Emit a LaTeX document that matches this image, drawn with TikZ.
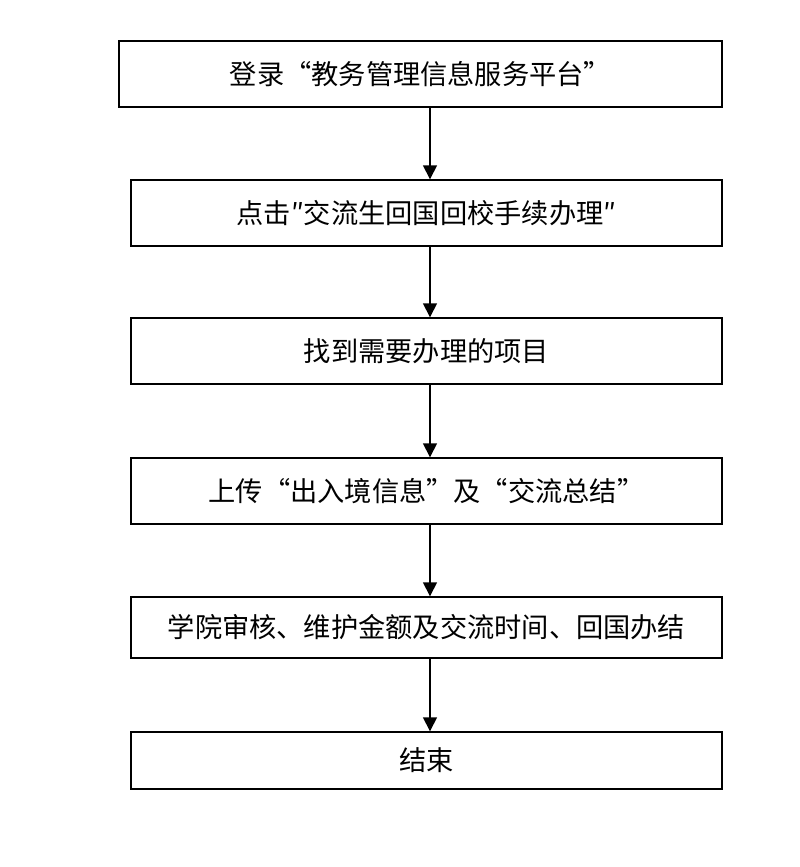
\documentclass[tikz,border=0pt]{standalone}
\usepackage{fontspec}
\newfontfamily\cjk{Noto Sans CJK SC}
\usetikzlibrary{arrows.meta,positioning}

\begin{document}
\begin{tikzpicture}[
    x=0.02cm,y=-0.02cm,
    stepbox/.style={draw=black,line width=0.8pt,minimum width=11.82cm,
        minimum height=1.32cm,inner sep=0pt,
        font=\cjk\fontsize{15.5pt}{18pt}\selectfont},
    flow/.style={-{Triangle[length=2.8mm,width=2.8mm]},line width=0.8pt}
]
    \useasboundingbox (0,0) rectangle (800,867);

    \node[stepbox,minimum width=12.06cm] (login) at (420.5,74)
        {登录“教务管理信息服务平台”};
    \node[stepbox] (click) at (426.5,213)
        {点击″交流生回国回校手续办理″};
    \node[stepbox] (find) at (426.5,351) {找到需要办理的项目};
    \node[stepbox] (upload) at (426.5,491)
        {上传“出入境信息”及“交流总结”};
    \node[stepbox,minimum height=1.22cm] (review) at (426.5,627.5)
        {学院审核、维护金额及交流时间、回国办结};
    \node[stepbox,minimum height=1.14cm] (finish) at (426.5,760.5) {结束};

    \coordinate (axis) at (430,0);
    \foreach \from/\to in {login/click,click/find,find/upload,
        upload/review,review/finish} {
        \draw[flow] (\from.south -| axis) -- (\to.north -| axis);
    }

\end{tikzpicture}
\end{document}
